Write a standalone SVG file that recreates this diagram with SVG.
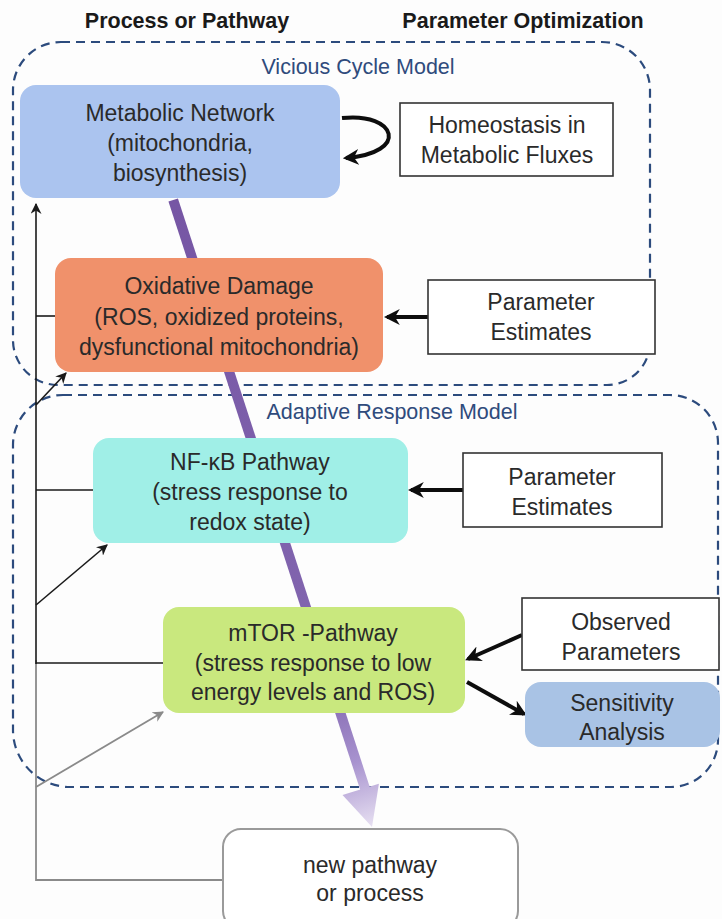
<svg xmlns="http://www.w3.org/2000/svg" width="722" height="919" viewBox="0 0 722 919">
<defs>
<style>
text{font-family:"Liberation Sans",Arial,sans-serif;font-size:23px;fill:#2a2a2a;text-anchor:middle}
.title{font-weight:bold;font-size:21.5px;fill:#1a1a1a}
.model{fill:#2f4b7c;font-size:21.5px}
.dash{fill:none;stroke:#2c4b7d;stroke-width:2.2;stroke-dasharray:9 6}
.box{fill:#fff;stroke:#333;stroke-width:1.6}
.thin{fill:none;stroke:#1a1a1a;stroke-width:1.6}
.grey{fill:none;stroke:#8a8a8a;stroke-width:1.8}
.thick{fill:none;stroke:#0d0d0d;stroke-width:4}
</style>
<marker id="ah" viewBox="0 0 10 10" refX="9" refY="5" markerWidth="11" markerHeight="11" markerUnits="userSpaceOnUse" orient="auto"><path d="M0,0 L10,5 L0,10 L3,5 Z" fill="#1a1a1a"/></marker>
<marker id="ahg" viewBox="0 0 10 10" refX="9" refY="5" markerWidth="11" markerHeight="11" markerUnits="userSpaceOnUse" orient="auto"><path d="M0,0 L10,5 L0,10 L3,5 Z" fill="#8a8a8a"/></marker>
<marker id="aht" viewBox="0 0 10 10" refX="8" refY="5" markerWidth="16" markerHeight="16" markerUnits="userSpaceOnUse" orient="auto"><path d="M0,0 L10,5 L0,10 L3,5 Z" fill="#0d0d0d"/></marker>
<linearGradient id="pg" gradientUnits="userSpaceOnUse" x1="178" y1="200" x2="372" y2="826">
<stop offset="0" stop-color="#7656a4"/>
<stop offset="0.78" stop-color="#8367b0"/>
<stop offset="0.9" stop-color="#a893cf"/>
<stop offset="1" stop-color="#e6dff1"/>
</linearGradient>
</defs>
<rect width="722" height="919" fill="#fdfdfd"/>
<text class="title" x="187" y="28">Process or Pathway</text>
<text class="title" x="523" y="28">Parameter Optimization</text>

<g id="vicious-cycle-model">
<path class="dash" d="M61 42 H602 A48 48 0 0 1 650 90 V342 A43 43 0 0 1 607 385 H58 A45 45 0 0 1 13 340 V90 A48 48 0 0 1 61 42 Z"/>
<text class="model" x="358" y="74">Vicious Cycle Model</text>
</g>
<g id="adaptive-response-model">
<path class="dash" d="M63 395 H670 A48 48 0 0 1 718 443 V740 A47 47 0 0 1 671 787 H70 A57 57 0 0 1 13 730 V445 A50 50 0 0 1 63 395 Z"/>
<text class="model" x="392" y="419">Adaptive Response Model</text>
</g>

<g id="connectors">
<path d="M173.2 200 L365.5 790" stroke="url(#pg)" stroke-width="10" fill="none"/>
<polygon points="372,827 378.9,783.7 342.5,795" fill="url(#pg)"/>
<path class="grey" d="M222 880 H36 V660"/>
<path class="thin" d="M36 664 V204" marker-end="url(#ah)"/>
<path class="thin" d="M36 316 H55"/>
<path class="thin" d="M36 490 H93"/>
<path class="thin" d="M36 663 H163"/>
<path class="thin" d="M36 405 L66 373" marker-end="url(#ah)"/>
<path class="thin" d="M36 605 L107 545" marker-end="url(#ah)"/>
<path class="grey" d="M36 787 L163 712" marker-end="url(#ahg)"/>
<path class="thick" d="M342 118 C397 112 410 153 346 158" marker-end="url(#aht)"/>
<path class="thick" d="M428 317 H387" marker-end="url(#aht)"/>
<path class="thick" d="M463 490 H411" marker-end="url(#aht)"/>
<path class="thick" d="M522 635 L468 659" marker-end="url(#aht)"/>
<path class="thick" d="M467 682 L524 714" marker-end="url(#aht)"/>
</g>

<g id="metabolic-network">
<rect x="20" y="85" width="320" height="113" rx="16" fill="#abc4ef"/>
<text x="180" y="121">Metabolic Network</text>
<text x="180" y="151">(mitochondria,</text>
<text x="180" y="181">biosynthesis)</text>
</g>
<g id="homeostasis">
<rect class="box" x="400" y="103" width="213" height="73"/>
<text x="507" y="133">Homeostasis in</text>
<text x="507" y="163">Metabolic Fluxes</text>
</g>
<g id="oxidative-damage">
<rect x="55" y="258" width="328" height="114" rx="16" fill="#f0916b"/>
<text x="219" y="294">Oxidative Damage</text>
<text x="219" y="325">(ROS, oxidized proteins,</text>
<text x="219" y="355">dysfunctional mitochondria)</text>
</g>
<g id="parameter-estimates-1">
<rect class="box" x="428" y="280" width="227" height="74"/>
<text x="541" y="310">Parameter</text>
<text x="541" y="340">Estimates</text>
</g>
<g id="nf-kb-pathway">
<rect x="93" y="438" width="315" height="105" rx="16" fill="#a0efe7"/>
<text x="250" y="470">NF-κB Pathway</text>
<text x="250" y="500">(stress response to</text>
<text x="250" y="530">redox state)</text>
</g>
<g id="parameter-estimates-2">
<rect class="box" x="463" y="453" width="199" height="74"/>
<text x="562" y="485">Parameter</text>
<text x="562" y="515">Estimates</text>
</g>
<g id="mtor-pathway">
<rect x="163" y="607" width="302" height="106" rx="16" fill="#c9e87e"/>
<text x="313" y="641">mTOR -Pathway</text>
<text x="313" y="671">(stress response to low</text>
<text x="313" y="700">energy levels and ROS)</text>
</g>
<g id="observed-parameters">
<rect class="box" x="522" y="598" width="197" height="72"/>
<text x="621" y="630">Observed</text>
<text x="621" y="660">Parameters</text>
</g>
<g id="sensitivity-analysis">
<rect x="525" y="682" width="195" height="65" rx="16" fill="#a9c3e5"/>
<text x="622" y="711">Sensitivity</text>
<text x="622" y="740">Analysis</text>
</g>
<g id="new-pathway">
<rect x="223" y="829" width="295" height="100" rx="18" fill="#fff" stroke="#9a9a9a" stroke-width="2"/>
<text x="370" y="873">new pathway</text>
<text x="370" y="901">or process</text>
</g>
</svg>
